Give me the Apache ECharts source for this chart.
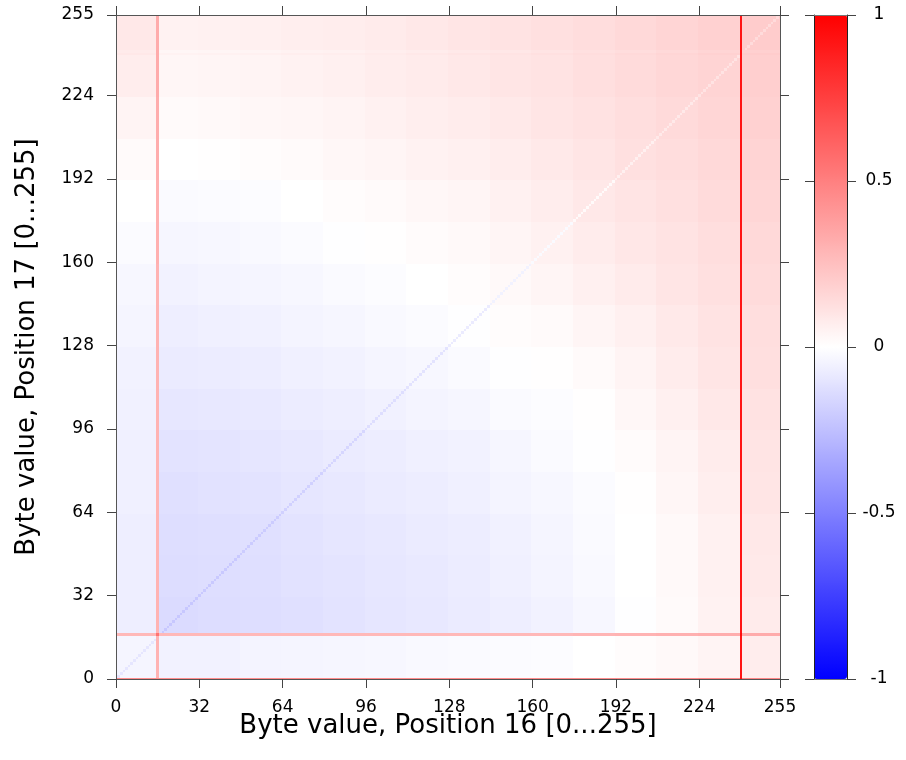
<!DOCTYPE html>
<html><head><meta charset="utf-8">
<script src="https://cdn.jsdelivr.net/npm/echarts@6/dist/echarts.min.js"></script>
<style>html,body{margin:0;padding:0;background:#fff}#c{width:906px;height:760px}</style>
</head><body><div id="c"></div>
<script>
// ---- data ----
const xTickValues = [0, 32, 64, 96, 128, 160, 192, 224, 255];
const colorTickValues = [-1, -0.5, 0, 0.5, 1];
// block edges (byte values) of the coarse background field
const xBlockEdges = [0, 16, 32, 48, 64, 80, 96, 112, 128, 144, 160, 176, 192, 208, 224, 240, 256];
const yBlockEdges = [0, 17, 32, 48, 64, 80, 96, 112, 128, 144, 160, 176, 192, 208, 224, 240, 256];
// background field, rows bottom -> top, each row left -> right
const fieldRows = [
  [-0.040,-0.050,-0.050,-0.045,-0.040,-0.035,-0.030,-0.025,-0.020,-0.015,-0.010,0.000,0.010,0.025,0.045,0.070],
  [-0.065,-0.140,-0.135,-0.130,-0.120,-0.110,-0.100,-0.090,-0.080,-0.065,-0.050,-0.030,-0.005,0.020,0.050,0.080],
  [-0.065,-0.135,-0.130,-0.125,-0.115,-0.105,-0.095,-0.085,-0.075,-0.060,-0.045,-0.025,0.000,0.025,0.055,0.085],
  [-0.065,-0.130,-0.125,-0.120,-0.110,-0.100,-0.090,-0.080,-0.070,-0.055,-0.040,-0.020,0.000,0.025,0.055,0.090],
  [-0.060,-0.120,-0.115,-0.110,-0.100,-0.090,-0.080,-0.070,-0.060,-0.045,-0.030,-0.015,0.005,0.035,0.065,0.100],
  [-0.060,-0.110,-0.105,-0.100,-0.090,-0.080,-0.070,-0.060,-0.050,-0.035,-0.020,-0.005,0.015,0.045,0.075,0.105],
  [-0.055,-0.095,-0.090,-0.085,-0.075,-0.065,-0.055,-0.045,-0.035,-0.020,-0.010,0.005,0.030,0.060,0.090,0.115],
  [-0.050,-0.080,-0.075,-0.070,-0.060,-0.050,-0.040,-0.030,-0.020,-0.005,0.005,0.020,0.045,0.075,0.100,0.125],
  [-0.040,-0.065,-0.060,-0.055,-0.045,-0.035,-0.025,-0.015,-0.005,0.010,0.020,0.040,0.060,0.085,0.110,0.130],
  [-0.030,-0.050,-0.045,-0.040,-0.030,-0.020,-0.010,0.000,0.010,0.025,0.040,0.060,0.080,0.100,0.120,0.140],
  [-0.015,-0.035,-0.030,-0.025,-0.015,-0.005,0.005,0.015,0.025,0.040,0.055,0.075,0.095,0.110,0.130,0.150],
  [0.000,-0.020,-0.015,-0.010,0.000,0.010,0.020,0.030,0.040,0.055,0.070,0.090,0.105,0.120,0.140,0.160],
  [0.020,0.000,0.005,0.010,0.020,0.030,0.040,0.050,0.060,0.070,0.085,0.100,0.120,0.135,0.150,0.170],
  [0.045,0.020,0.025,0.030,0.035,0.045,0.055,0.065,0.075,0.085,0.100,0.115,0.130,0.145,0.160,0.180],
  [0.070,0.035,0.040,0.045,0.050,0.060,0.070,0.080,0.090,0.100,0.110,0.125,0.140,0.155,0.170,0.190],
  [0.090,0.050,0.055,0.060,0.065,0.070,0.080,0.090,0.100,0.110,0.120,0.135,0.150,0.165,0.180,0.200]
];
// diagonal (x == y) values, one per 16-wide block
const diagonalValues = [-0.10,-0.22,-0.21,-0.20,-0.18,-0.16,-0.13,-0.11,-0.08,-0.05,-0.02,0.02,0.06,0.085,0.11,0.14];
// single columns: values per y-block (bottom -> top)
const column0Values   = [0.35,0.35,0.35,0.35,0.35,0.35,0.35,0.35,0.35,0.35,0.35,0.36,0.37,0.38,0.39,0.40];
const column16Values  = [0.30,0.30,0.30,0.30,0.30,0.30,0.30,0.30,0.30,0.30,0.31,0.31,0.32,0.32,0.33,0.33];
const column240Values = [0.92,0.92,0.92,0.92,0.92,0.92,0.92,0.92,0.92,0.92,0.92,0.92,0.92,0.92,0.92,0.92];
// single rows: values per x-block (left -> right)
const row0Values   = [0.45,0.45,0.45,0.45,0.45,0.45,0.45,0.45,0.45,0.45,0.45,0.45,0.45,0.46,0.47,0.48];
const row17Values  = [0.28,0.28,0.28,0.28,0.28,0.28,0.28,0.28,0.28,0.28,0.28,0.29,0.30,0.31,0.32,0.33];
const row241Values = [0.08,0.035,0.04,0.045,0.05,0.055,0.065,0.075,0.085,0.095,0.105,0.12,0.135,0.15,0.165,0.185];
// strong single cells [x, y, value]
const hotCells = [[0, 0, 0.8], [16, 17, 0.55], [240, 17, 0.95], [240, 0, 0.95]];

// ---- build rectangles [x0, y0, x1, y1, value] in byte units ----
const cells = [];
for (let j = 0; j < fieldRows.length; j++) {
  for (let i = 0; i < fieldRows[j].length; i++) {
    cells.push([xBlockEdges[i] - 0.5, yBlockEdges[j] - 0.5, xBlockEdges[i + 1] - 0.5, yBlockEdges[j + 1] - 0.5, fieldRows[j][i]]);
  }
}
for (let k = 0; k < 256; k++) {
  const b = Math.floor(k / 16);
  cells.push([k - 0.5, k - 0.5, k + 0.5, k + 0.5, diagonalValues[b]]);
}
function addRow(r, vals) {
  for (let i = 0; i < vals.length; i++) cells.push([xBlockEdges[i] - 0.5, r - 0.5, xBlockEdges[i + 1] - 0.5, r + 0.5, vals[i]]);
}
function addCol(c, vals) {
  for (let j = 0; j < vals.length; j++) cells.push([c - 0.5, yBlockEdges[j] - 0.5, c + 0.5, yBlockEdges[j + 1] - 0.5, vals[j]]);
}
addRow(241, row241Values);
addCol(0, column0Values);
addCol(16, column16Values);
addRow(17, row17Values);
addRow(0, row0Values);
addCol(240, column240Values);
hotCells.forEach(h => cells.push([h[0] - 0.5, h[1] - 0.5, h[0] + 0.5, h[1] + 0.5, h[2]]));

const FONT = 'DejaVu Sans';
const frame = '#555';
const tickStyle = { show: true, inside: false, length: 9, lineStyle: { color: '#444', width: 1 } };
const lineStyle = { show: true, onZero: false, lineStyle: { color: frame, width: 1 } };

const chart = echarts.init(document.getElementById('c'), null, { renderer: 'canvas' });
chart.setOption({
  animation: false,
  backgroundColor: '#ffffff',
  textStyle: { fontFamily: FONT },
  grid: [
    { left: 116, top: 15, width: 664, height: 664, containLabel: false },
    { left: 814, top: 15, width: 33, height: 664, containLabel: false }
  ],
  xAxis: [
    { type: 'value', gridIndex: 0, position: 'bottom', min: 0, max: 255, interval: 32, z: 10,
      axisLine: lineStyle, axisTick: tickStyle, splitLine: { show: false },
      axisLabel: { margin: 20, fontSize: 17, color: '#000', fontFamily: FONT,
        customValues: xTickValues },
      name: 'Byte value, Position 16 [0...255]', nameLocation: 'middle', nameGap: 34,
      nameMoveOverlap: false,
      nameTextStyle: { fontSize: 26, color: '#000', fontFamily: FONT } },
    { type: 'value', gridIndex: 0, position: 'top', min: 0, max: 255, interval: 32, z: 10,
      axisLine: lineStyle, axisTick: tickStyle, axisLabel: { show: false }, splitLine: { show: false } },
    { type: 'value', gridIndex: 1, position: 'bottom', min: 0, max: 1, z: 10,
      axisLine: { show: true, onZero: false, lineStyle: { color: '#777', width: 1 } }, axisTick: { show: false },
      axisLabel: { show: false }, splitLine: { show: false } },
    { type: 'value', gridIndex: 1, position: 'top', min: 0, max: 1, z: 10,
      axisLine: { show: true, onZero: false, lineStyle: { color: '#777', width: 1 } }, axisTick: { show: false },
      axisLabel: { show: false }, splitLine: { show: false } }
  ],
  yAxis: [
    { type: 'value', gridIndex: 0, position: 'left', min: 0, max: 255, interval: 32, z: 10,
      axisLine: lineStyle, axisTick: tickStyle, splitLine: { show: false },
      axisLabel: { margin: 22, fontSize: 17, color: '#000', fontFamily: FONT },
      name: 'Byte value, Position 17 [0...255]', nameLocation: 'middle', nameGap: 76,
      nameMoveOverlap: false,
      nameTextStyle: { fontSize: 26, color: '#000', fontFamily: FONT } },
    { type: 'value', gridIndex: 0, position: 'right', min: 0, max: 255, interval: 32, z: 10,
      axisLine: lineStyle, axisTick: tickStyle, axisLabel: { show: false }, splitLine: { show: false } },
    { type: 'value', gridIndex: 1, position: 'left', min: -1, max: 1, interval: 0.5, z: 10,
      axisLine: { show: true, onZero: false, lineStyle: { color: '#222', width: 1 } },
      axisTick: { show: true, inside: false, length: 9, lineStyle: { color: '#444' } },
      axisLabel: { show: false }, splitLine: { show: false } },
    { type: 'value', gridIndex: 1, position: 'right', min: -1, max: 1, interval: 0.5, z: 10,
      axisLine: { show: true, onZero: false, lineStyle: { color: '#222', width: 1 } },
      axisTick: { show: true, inside: false, length: 9, lineStyle: { color: '#444' } },
      axisLabel: { margin: 32, align: 'center', fontSize: 17, color: '#000', fontFamily: FONT,
        customValues: colorTickValues },
      splitLine: { show: false } }
  ],
  visualMap: {
    type: 'continuous', min: -1, max: 1, dimension: 4, seriesIndex: 0,
    inRange: { color: ['#0000ff', '#ffffff', '#ff0000'] },
    left: 814, top: 15, itemWidth: 33, itemHeight: 664, padding: 0,
    calculable: false, hoverLink: false, realtime: false, z: 5
  },
  series: [{
    type: 'custom', xAxisIndex: 0, yAxisIndex: 0, clip: true, z: 2,
    data: cells,
    encode: { x: [0, 2], y: [1, 3] },
    renderItem: function (params, api) {
      const p0 = api.coord([api.value(0), api.value(3)]);
      const p1 = api.coord([api.value(2), api.value(1)]);
      const x0 = Math.round(p0[0]), y0 = Math.round(p0[1]);
      const x1 = Math.round(p1[0]), y1 = Math.round(p1[1]);
      return { type: 'rect', shape: { x: x0, y: y0, width: Math.max(1, x1 - x0), height: Math.max(1, y1 - y0) },
        style: { fill: api.visual('color') } };
    }
  }]
});
</script></body></html>
